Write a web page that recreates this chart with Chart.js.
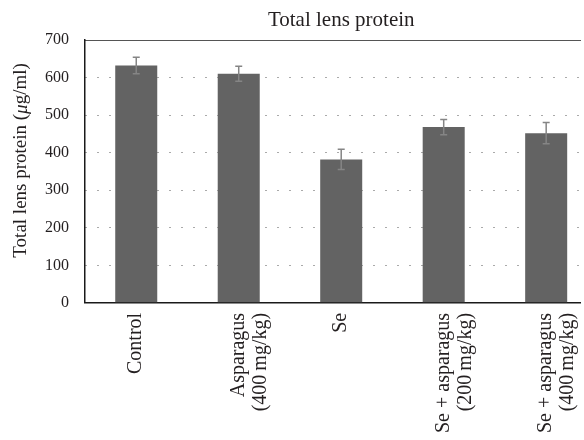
<!DOCTYPE html>
<html>
<head>
<meta charset="utf-8">
<script src="https://cdn.jsdelivr.net/npm/chart.js@4"></script>
<style>
  html, body { margin: 0; padding: 0; background: #fff; overflow: hidden; }
  #wrap { width: 584px; height: 440px; position: relative; }
</style>
</head>
<body>
<div id="wrap"><canvas id="c"></canvas></div>
<script>
const categories = ['Control', ['Asparagus', '(400\u2009mg/kg)'], 'Se', ['Se + asparagus', '(200\u2009mg/kg)'], ['Se + asparagus', '(400\u2009mg/kg)']];
const values = [632, 610, 382, 468, 452];
const errors = [22, 20, 27, 20, 28];
const yMin = 0, yMax = 700, yStep = 100;
const chartTitle = 'Total lens protein';
const yTitleParts = [['Total lens protein (', 'normal'], ['\u03bc', 'italic'], ['g/ml)', 'normal']];

const FONT = "'Liberation Serif', 'DejaVu Serif', serif";
const TEXT = '#231f20';

const errorBars = {
  id: 'errorBars',
  afterDatasetsDraw(chart) {
    const ctx = chart.ctx;
    const meta = chart.getDatasetMeta(0);
    const y = chart.scales.y;
    ctx.save();
    ctx.strokeStyle = '#858585';
    ctx.lineWidth = 1.5;
    meta.data.forEach((bar, i) => {
      const top = y.getPixelForValue(values[i] + errors[i]);
      const bot = y.getPixelForValue(values[i] - errors[i]);
      const x = bar.x;
      ctx.beginPath();
      ctx.moveTo(x, top); ctx.lineTo(x, bot);
      ctx.moveTo(x - 3.5, top); ctx.lineTo(x + 3.5, top);
      ctx.moveTo(x - 3.5, bot); ctx.lineTo(x + 3.5, bot);
      ctx.stroke();
    });
    ctx.restore();
  }
};

const titles = {
  id: 'titles',
  afterDraw(chart) {
    const ctx = chart.ctx;
    const a = chart.chartArea;
    const xs = chart.scales.x;
    ctx.save();
    ctx.fillStyle = TEXT;
    // main title, centred over the full category span
    ctx.font = 'normal 21px ' + FONT;
    ctx.textAlign = 'center';
    ctx.textBaseline = 'alphabetic';
    const cx = (a.left + xs.getPixelForValue(categories.length - 0.5)) / 2;
    ctx.fillText(chartTitle, cx, 26);
    // y-axis title with italic mu
    ctx.textBaseline = 'middle';
    ctx.textAlign = 'left';
    let total = 0;
    const widths = yTitleParts.map(([t, s]) => {
      ctx.font = s + ' 19px ' + FONT;
      const w = ctx.measureText(t).width;
      total += w;
      return w;
    });
    const cy = (a.top + a.bottom) / 2 - 11;
    ctx.translate(21.5, cy);
    ctx.rotate(-Math.PI / 2);
    let x = -total / 2;
    yTitleParts.forEach(([t, s], i) => {
      ctx.font = s + ' 19px ' + FONT;
      ctx.fillText(t, x, 0);
      x += widths[i];
    });
    ctx.restore();
  }
};

new Chart(document.getElementById('c'), {
  type: 'bar',
  data: {
    datasets: [{
      data: values.map((v, i) => ({ x: i, y: v })),
      backgroundColor: '#636363',
      borderWidth: 0,
      categoryPercentage: 1,
      barPercentage: 0.41
    }]
  },
  options: {
    responsive: true,
    maintainAspectRatio: false,
    animation: false,
    layout: { padding: { left: 29, right: 4, top: 40, bottom: -3 } },
    plugins: {
      legend: { display: false },
      tooltip: { enabled: false },
      title: { display: false }
    },
    scales: {
      x: {
        type: 'linear',
        position: 'bottom',
        offset: false,
        min: -0.5,
        max: 4.33,
        afterBuildTicks: (axis) => { axis.ticks = axis.ticks.filter(t => Number.isInteger(t.value)); },
        afterFit: (axis) => { axis.paddingLeft = 0; axis.paddingRight = 0; },
        ticks: {
          stepSize: 1,
          autoSkip: false,
          minRotation: 90,
          maxRotation: 90,
          padding: 10,
          color: TEXT,
          font: { family: FONT, size: 20, lineHeight: 1.1 },
          callback: (v) => categories[v]
        },
        grid: { display: false, drawTicks: false },
        border: { display: true, color: '#1a1a1a', width: 1.5 }
      },
      x2: {
        type: 'linear',
        position: 'top',
        offset: false,
        afterFit: (axis) => { axis.paddingLeft = 0; axis.paddingRight = 0; axis.height = 0; },
        ticks: { display: false },
        grid: { display: false, drawTicks: false },
        border: { display: true, color: '#555', width: 1 }
      },
      y: {
        min: yMin,
        max: yMax,
        ticks: {
          stepSize: yStep,
          padding: 16,
          color: TEXT,
          font: { family: FONT, size: 16 }
        },
        grid: {
          drawTicks: false,
          color: (c) => (c.tick && (c.tick.value === yMin || c.tick.value === yMax)) ? 'rgba(0,0,0,0)' : '#555',
          lineWidth: 1
        },
        border: { display: true, color: '#1a1a1a', width: 1.5, dash: [1, 11] }
      }
    }
  },
  plugins: [errorBars, titles]
});
</script>
</body>
</html>
